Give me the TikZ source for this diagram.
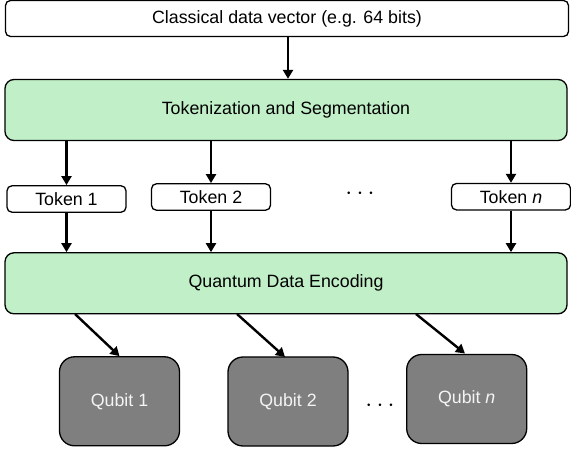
\documentclass[tikz,border=0pt]{standalone}
\usepackage{fontspec}
\setmainfont{Liberation Sans}
\usetikzlibrary{arrows.meta}
\definecolor{boxgreen}{HTML}{C1F0C8}
\definecolor{qgray}{HTML}{7F7F7F}
\definecolor{qtext}{HTML}{F4F4F4}
\begin{document}
\begin{tikzpicture}[x=1pt,y=-1pt,
  every node/.style={font=\fontsize{17.8}{20}\selectfont, inner sep=0pt},
  whitebox/.style={draw=black, line width=1.3pt, fill=white, rounded corners=5pt},
  greenbox/.style={draw=black, line width=1.3pt, fill=boxgreen, rounded corners=9pt, minimum width=562pt, minimum height=61pt},
  tokenbox/.style={whitebox, minimum width=119pt, minimum height=26.5pt},
  qubitbox/.style={draw=black, line width=1.3pt, fill=qgray, text=qtext, rounded corners=15pt, minimum width=120pt, minimum height=89pt},
  dotsnode/.style={font=\fontsize{27}{27}\selectfont},
  arr/.style={line width=2.4pt, -{Triangle[length=9pt,width=10pt]}}
]
\useasboundingbox (0,0) rectangle (571,449);
\node[whitebox, minimum width=563pt, minimum height=36pt] (top) at (287,18.5) {Classical data vector (e.g. 64 bits)};
\node[greenbox] (g1) at (286,110) {Tokenization and Segmentation};
\node[tokenbox] (t1) at (66.5,199) {Token 1};
\node[tokenbox] (t2) at (211,197) {Token 2};
\node[tokenbox] (tn) at (511,196.7) {Token \textit{n}};
\node[dotsnode] (tdots) at (360,194) {$\cdots$};
\node[greenbox] (g2) at (286,283.3) {Quantum Data Encoding};
\node[qubitbox] (q1) at (119.5,401.3) {Qubit 1};
\node[qubitbox] (q2) at (288,401.5) {Qubit 2};
\node[qubitbox] (qn) at (466.7,399) {Qubit \textit{n}};
\node[dotsnode] (qdots) at (380,406) {$\cdots$};
\draw[arr] (top.south -| 288,0) -- (g1.north -| 288,0);
\foreach \t in {t1,t2,tn} {
  \draw[arr] (g1.south -| \t.north) -- (\t.north);
  \draw[arr] (\t.south) -- (g2.north -| \t.south);
}
\coordinate (s1) at (75,314);
\coordinate (s2) at (237,314);
\coordinate (s3) at (416,314);
\coordinate (e2) at (285,357);
\coordinate (e3) at (465,353.5);
\draw[arr] (s1) -- (q1.north);
\draw[arr] (s2) -- (e2);
\draw[arr] (s3) -- (e3);
\end{tikzpicture}
\end{document}
